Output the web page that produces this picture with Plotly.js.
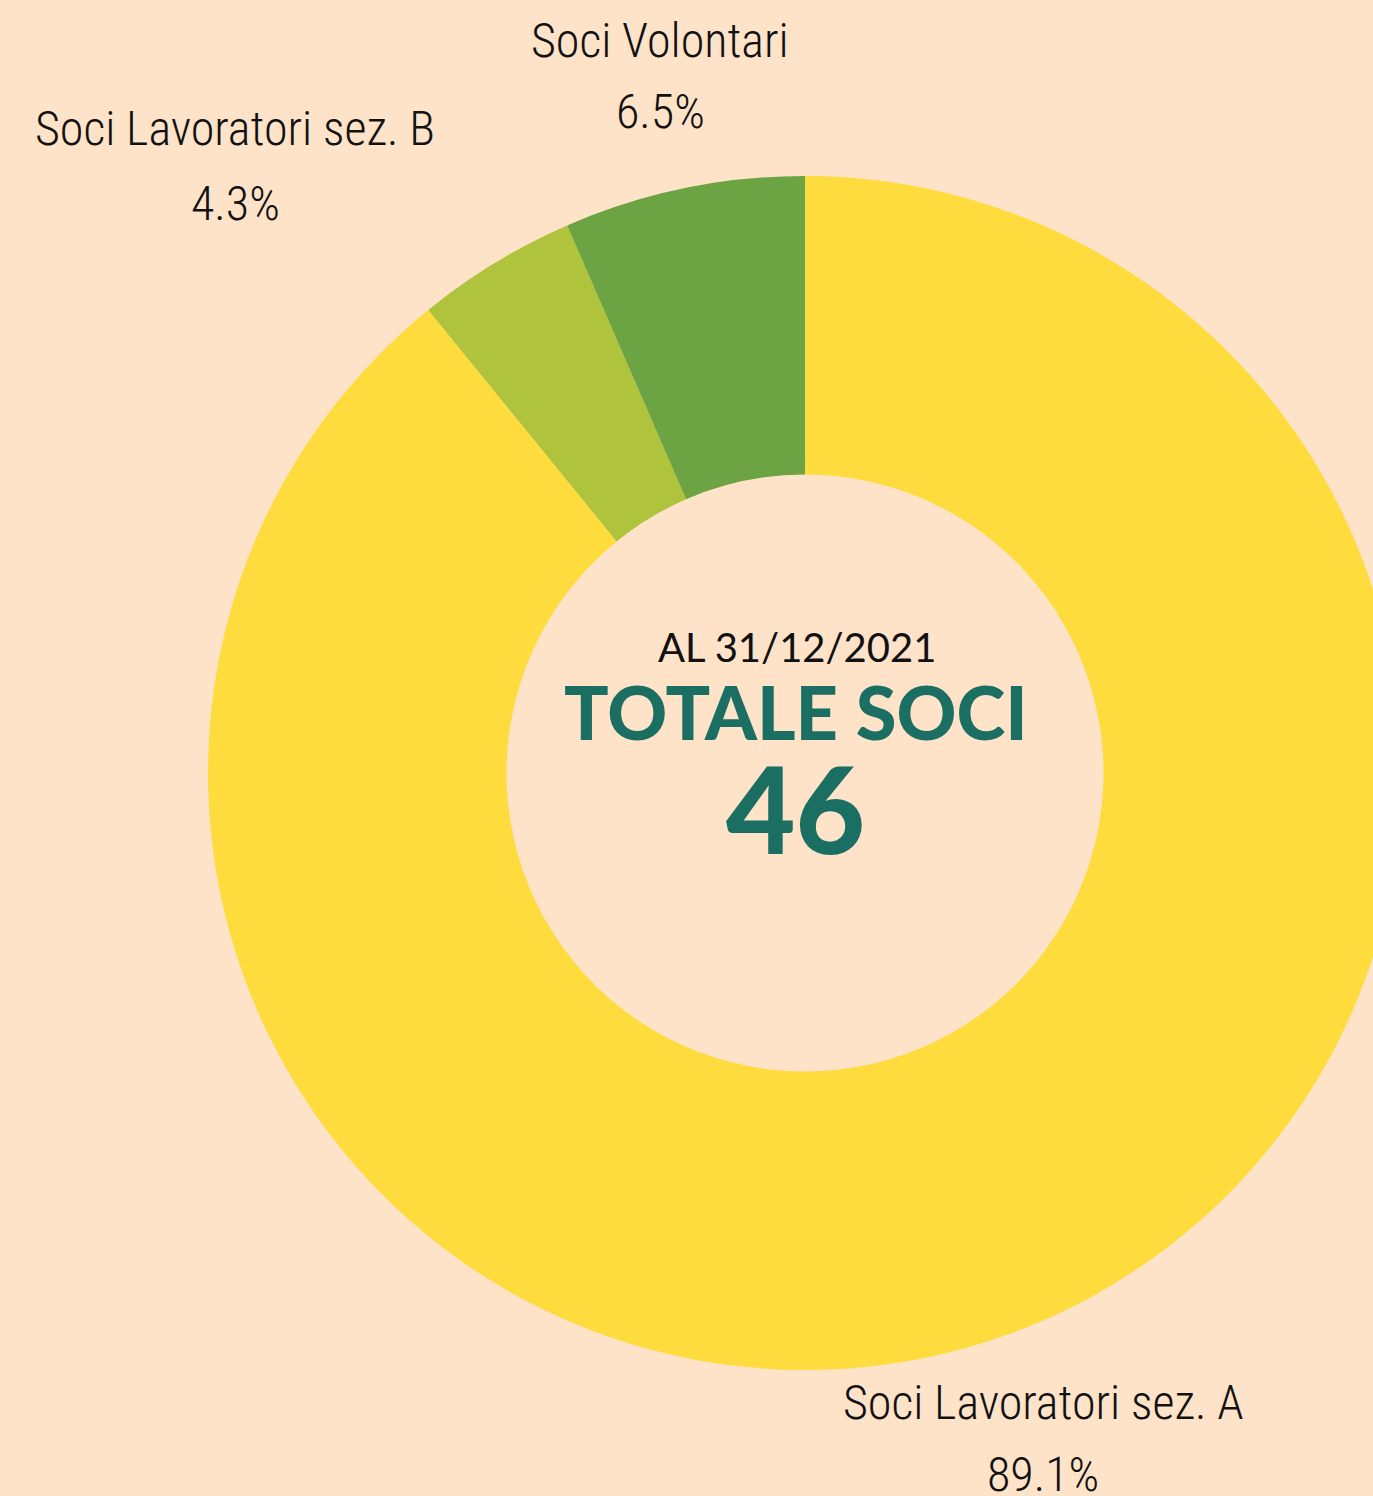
<!DOCTYPE html>
<html>
<head>
<meta charset="utf-8">
<script src="https://cdn.plot.ly/plotly-3.0.1.min.js"></script>
<style>
html, body { margin: 0; padding: 0; background: #FEE3C9; overflow: hidden; width: 1373px; height: 1496px; }
#chart { width: 1440px; height: 1496px; }
</style>
</head>
<body>
<div id="chart"></div>
<script>
const categories = ["Soci Lavoratori sez. A", "Soci Lavoratori sez. B", "Soci Volontari"];
const members = [41, 2, 3];
const sliceColors = ["#FEDC3D", "#AFC43C", "#6CA443"];
const dateLabel = "AL 31/12/2021";
const totalLabel = "TOTALE SOCI";
const totalValue = members.reduce((a, b) => a + b, 0);

// layout geometry (pixels)
const W = 1440, H = 1496;
const M = { l: 208, r: 38, t: 176, b: 126 };
const PW = W - M.l - M.r, PH = H - M.t - M.b;
const px = x => (x - M.l) / PW;
const py = y => (H - M.b - y) / PH;
// label centre positions (pixels) for name line and percent line
const labelPos = [
  { x: 1043, yName: 1402, yPct: 1474 },
  { x: 235, yName: 129, yPct: 203 },
  { x: 660, yName: 40, yPct: 112 }
];

const labelFont = { family: "Roboto Condensed, sans-serif", size: 48, color: "#111111", weight: 300 };

const annotations = [];
categories.forEach((c, i) => {
  const pct = (100 * members[i] / totalValue).toFixed(1) + "%";
  annotations.push({ text: c, x: px(labelPos[i].x), y: py(labelPos[i].yName), xref: "paper", yref: "paper",
    showarrow: false, xanchor: "center", yanchor: "middle", font: labelFont });
  annotations.push({ text: pct, x: px(labelPos[i].x), y: py(labelPos[i].yPct), xref: "paper", yref: "paper",
    showarrow: false, xanchor: "center", yanchor: "middle", font: labelFont });
});
annotations.push(
  { text: dateLabel, x: px(797), y: py(647), xref: "paper", yref: "paper", showarrow: false,
    xanchor: "center", yanchor: "middle",
    font: { family: "Lato, sans-serif", size: 40, color: "#111111" } },
  { text: totalLabel, x: px(796), y: py(711), xref: "paper", yref: "paper", showarrow: false,
    xanchor: "center", yanchor: "middle",
    font: { family: "Lato, sans-serif", size: 74, color: "#1B6E62", weight: 900 } },
  { text: String(totalValue), x: px(795), y: py(808), xref: "paper", yref: "paper", showarrow: false,
    xanchor: "center", yanchor: "middle",
    font: { family: "Lato, sans-serif", size: 120, color: "#1B6E62", weight: 900 } }
);

const trace = {
  type: "pie",
  labels: categories,
  values: members,
  marker: { colors: sliceColors, line: { width: 0 } },
  hole: 0.5,
  sort: false,
  direction: "clockwise",
  rotation: 0,
  textinfo: "none",
  hoverinfo: "none",
  showlegend: false,
  domain: { x: [0, 1], y: [0, 1] }
};

const layout = {
  width: W,
  height: H,
  margin: M,
  paper_bgcolor: "#FEE3C9",
  plot_bgcolor: "#FEE3C9",
  showlegend: false,
  annotations: annotations
};

Plotly.newPlot("chart", [trace], layout, { displayModeBar: false, staticPlot: true });
</script>
</body>
</html>
